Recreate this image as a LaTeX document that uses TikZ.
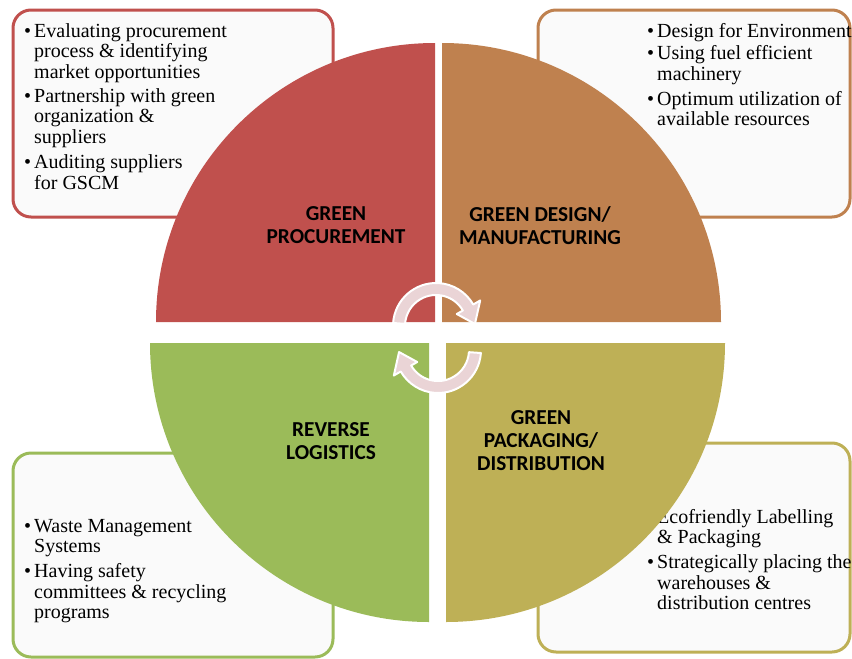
\documentclass[tikz,border=0pt]{standalone}
\usepackage{fontspec}
\setmainfont{Liberation Serif}
\newfontfamily\labelfont{Carlito}
\definecolor{qred}{RGB}{192,80,77}
\definecolor{qorange}{RGB}{191,129,79}
\definecolor{qgreen}{RGB}{155,187,89}
\definecolor{qolive}{RGB}{190,176,86}
\definecolor{arrowpink}{RGB}{234,212,214}
\definecolor{boxfill}{RGB}{250,250,250}
\tikzset{
  infobox/.style={draw=#1, line width=3pt, rounded corners=18pt, fill=boxfill, inner sep=0pt},
  qlabel/.style={font=\labelfont\bfseries\fontsize{21.3}{23}\selectfont, align=center, text=black, inner sep=0pt},
  itemtext/.style={font=\fontsize{20}{20.5}\selectfont, anchor=north west, inner sep=0pt},
  cyc/.style={fill=arrowpink, draw=white, line width=2pt, line join=round}
}
\begin{document}
\begin{tikzpicture}[x=1pt,y=1pt]
\fill[white] (0,0) rectangle (852,-659);
\useasboundingbox (0,0) rectangle (852,-659);

% info boxes
\node[infobox=qred, minimum width=320pt, minimum height=207pt] (boxP) at (173,-113.5) {};
\node[infobox=qorange, minimum width=312pt, minimum height=207pt] (boxD) at (694,-113.5) {};
\node[infobox=qgreen, minimum width=320pt, minimum height=204pt] (boxR) at (173,-555) {};
\node[infobox=qolive, minimum width=312pt, minimum height=209pt] (boxG) at (694,-547.5) {};

% box texts
\node[itemtext] (txtP) at (24,-22.65) {\begin{tabular}{@{}l@{\hspace{3pt}}l@{}}
• & Evaluating procurement\\
  & process \& identifying\\
  & market opportunities\\[3.5pt]
• & Partnership with green\\
  & organization \&\\
  & suppliers\\[5pt]
• & Auditing suppliers\\
  & for GSCM
\end{tabular}};
\node[itemtext] (txtD) at (647,-22.65) {\begin{tabular}{@{}l@{\hspace{3pt}}l@{}}
• & Design\ for Environment\\[2pt]
• & Using fuel efficient\\
  & machinery\\[4.5pt]
• & Optimum utilization of\\
  & available resources
\end{tabular}};
\node[itemtext] (txtR) at (24,-517.65) {\begin{tabular}{@{}l@{\hspace{3pt}}l@{}}
• & Waste Management\\
  & Systems\\[4.5pt]
• & Having safety\\
  & committees \& recycling\\
  & programs
\end{tabular}};
\node[itemtext] (txtG) at (647,-508.65) {\begin{tabular}{@{}l@{\hspace{3pt}}l@{}}
• & Ecofriendly Labelling\\
  & \& Packaging\\[4.5pt]
• & Strategically placing the\\
  & warehouses \&\\
  & distribution centres
\end{tabular}};

% quadrants
\fill[qred] (435,-322) -- (156,-322) arc[start angle=180,end angle=90,radius=279] -- cycle;
\fill[qorange] (442,-322) -- (442,-43) arc[start angle=90,end angle=0,radius=279] -- cycle;
\fill[qgreen] (429,-343) -- (150,-343) arc[start angle=180,end angle=270,radius=279] -- cycle;
\fill[qolive] (446,-343) -- (446,-622) arc[start angle=270,end angle=360,radius=279] -- cycle;

% quadrant labels
\node[qlabel] (lblP) at (336,-225) {GREEN\\PROCUREMENT};
\node[qlabel] (lblD) at (540,-226) {GREEN DESIGN/\\MANUFACTURING};
\node[qlabel] (lblR) at (331,-441) {REVERSE\\LOGISTICS};
\node[qlabel] (lblG) at (541,-440.5) {GREEN\\PACKAGING/\\DISTRIBUTION};

% cycle arrows
\begin{scope}[shift={(436,-326)}]
\draw[cyc] (176:43) arc[start angle=176,end angle=30,radius=43] -- (30:51) -- (3:39) -- (30:24) -- (30:31) arc[start angle=30,end angle=176,radius=31] -- cycle;
\end{scope}
\begin{scope}[shift={(438,-350)}, rotate=180]
\draw[cyc] (176:43) arc[start angle=176,end angle=30,radius=43] -- (30:51) -- (3:39) -- (30:24) -- (30:31) arc[start angle=30,end angle=176,radius=31] -- cycle;
\end{scope}
\end{tikzpicture}
\end{document}
